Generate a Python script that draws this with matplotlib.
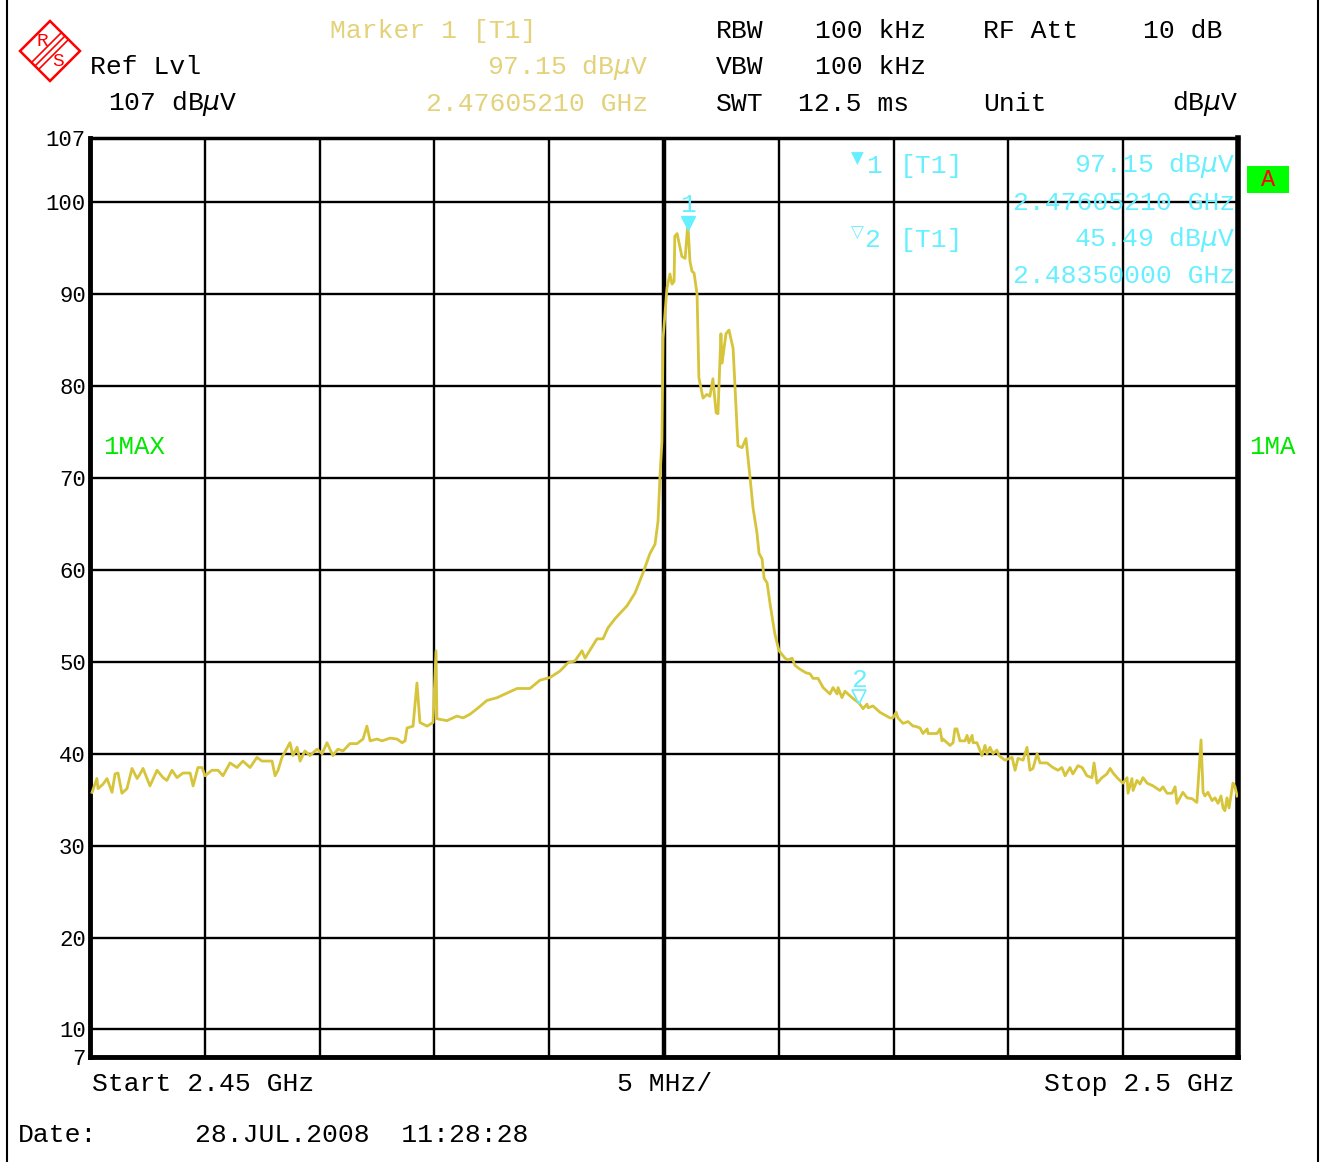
import numpy as np
import matplotlib
matplotlib.use("Agg")
import matplotlib.pyplot as plt
from matplotlib.lines import Line2D
from matplotlib.patches import Polygon, Rectangle
from matplotlib.transforms import ScaledTranslation

plt.rcParams['font.family'] = ['Liberation Mono', 'DejaVu Sans']
plt.rcParams['mathtext.fontset'] = 'dejavusans'

# sweep: start 2.45 GHz, stop 2.5 GHz, offsets in MHz from start
start_ghz = 2.45
stop_ghz = 2.50
offset_mhz = [
    0.09, 0.30, 0.35, 0.57, 0.74, 0.96, 1.09, 1.22, 1.39, 1.61, 1.83, 2.05, 2.18, 2.31, 2.61,
    2.92, 3.18, 3.35, 3.57, 3.79, 4.05, 4.36, 4.49, 4.70, 4.88, 5.01, 5.31, 5.58, 5.79, 6.10,
    6.40, 6.66, 6.97, 7.27, 7.49, 7.93, 8.06, 8.19, 8.36, 8.71, 8.84, 9.02, 9.15, 9.36, 9.58,
    9.89, 10.11, 10.32, 10.58, 10.80, 11.02, 11.32, 11.63, 11.89, 12.06, 12.20, 12.50, 12.72,
    13.07, 13.37, 13.59, 13.72, 13.81, 14.07, 14.24, 14.37, 14.68, 14.94, 15.07, 15.11, 15.55,
    15.98, 16.25, 16.55, 16.86, 17.29, 17.73, 18.16,
    18.60, 19.16, 19.60, 20.04, 20.47, 20.82, 21.12, 21.43, 21.56, 22.08, 22.34, 22.56, 22.87,
    23.39, 23.74, 24.09, 24.39, 24.61, 24.74, 24.83, 24.91,
    24.96, 25.13, 25.26, 25.35, 25.44, 25.47, 25.57, 25.78, 25.92, 26.02, 26.05, 26.13, 26.22,
    26.31, 26.44, 26.52, 26.70, 26.87, 27.00, 27.13, 27.27, 27.35, 27.48, 27.53, 27.70, 27.83,
    28.01, 28.22, 28.40, 28.57,
    28.75, 28.88, 29.05, 29.14, 29.27, 29.36, 29.49, 29.62, 29.83, 30.01, 30.27, 30.40, 30.58,
    30.71, 30.92, 31.19, 31.36, 31.49, 31.71, 31.93, 32.23, 32.36, 32.54, 32.58, 32.75, 32.88,
    33.19, 33.50, 33.67, 33.84, 33.89, 34.10, 34.41, 34.63, 34.84, 34.97, 35.11, 35.19, 35.41,
    35.63, 35.85, 35.93,
    36.15, 36.28, 36.46, 36.50, 36.89, 37.02, 37.11, 37.15, 37.46, 37.59, 37.67, 37.76, 37.89,
    38.11, 38.20, 38.28, 38.42, 38.46, 38.63, 38.85, 38.98, 39.07, 39.20, 39.33, 39.50, 39.59,
    39.85, 40.16, 40.29, 40.42, 40.64, 40.81, 40.94, 41.07, 41.25, 41.38, 41.68, 41.94, 42.16,
    42.33, 42.47, 42.68, 42.81, 43.03, 43.21, 43.42, 43.64, 43.73, 43.86, 44.08, 44.29, 44.43,
    44.56, 44.77, 44.99, 45.17, 45.21, 45.38, 45.43, 45.60, 45.73, 45.86, 46.04, 46.30, 46.60,
    46.73, 46.91, 47.13, 47.26, 47.34, 47.47, 47.60, 47.78, 48.00, 48.21, 48.39, 48.48, 48.56,
    48.69, 48.87, 49.00, 49.13, 49.26, 49.35, 49.43, 49.52, 49.61, 49.78, 49.87, 49.96,
]
level_dbuv = [
    35.8, 37.3, 36.2, 36.7, 37.3, 35.8, 37.8, 37.9, 35.7, 36.2, 38.4, 37.3, 37.8, 38.4, 36.5,
    38.2, 37.4, 37.1, 38.2, 37.4, 37.9, 37.9, 36.5, 38.5, 38.5, 37.6, 38.2, 38.2, 37.6, 39.0,
    38.5, 39.2, 38.5, 39.6, 39.2, 39.2, 37.6, 38.2, 39.6, 41.2, 39.8, 40.7, 39.2, 40.3, 39.8,
    40.5, 40.0, 41.2, 39.8, 40.5, 40.3, 41.1, 41.1, 41.6, 43.0, 41.4, 41.6, 41.4,
    41.7, 41.6, 41.2, 41.4, 42.8, 43.0, 47.7, 43.4, 43.0, 43.4, 51.2, 43.8, 43.6,
    44.1, 43.9, 44.3, 44.9, 45.8, 46.1, 46.6,
    47.1, 47.1, 48.0, 48.3, 49.0, 49.9, 50.1, 51.2, 50.4, 52.5, 52.5, 53.7, 54.7,
    56.1, 57.5, 59.7, 61.8, 62.8, 65.3, 70.4, 74.0,
    85.2, 90.7, 92.2, 91.1, 91.4, 96.3, 96.6, 94.1, 93.9, 97.1, 97.15, 93.6, 92.5,
    92.3, 90.0, 80.9, 78.7, 79.1, 78.9, 80.8, 77.1, 77.0, 85.7, 82.5, 85.7, 86.1,
    84.1, 73.5, 73.3, 74.3,
    70.0, 66.7, 64.0, 61.8, 61.2, 59.1, 58.6, 56.3, 53.0, 51.2, 50.4, 50.2, 50.4,
    49.6, 49.2, 48.8, 48.7, 48.2, 48.2, 47.2, 46.5, 47.2, 46.5, 47.2, 46.1, 46.8,
    46.1, 45.49, 44.9, 45.4, 45.0, 45.2, 44.5, 44.2, 43.9, 43.9, 44.5, 43.9, 43.3,
    43.5, 43.0, 43.0,
    42.8, 42.2, 42.7, 42.2, 42.2, 42.7, 41.4, 41.6, 40.9, 41.2, 42.7, 42.7, 41.4,
    41.4, 42.0, 41.2, 42.0, 41.2, 41.2, 39.8, 40.9, 40.0, 40.7, 40.0, 40.4, 39.8,
    39.3, 39.6, 38.2, 39.5, 39.3, 40.7, 38.2, 38.4, 40.0, 39.0, 39.0, 38.5, 38.2,
    38.5, 37.6, 38.5, 37.8, 38.7, 38.5, 37.6, 37.4, 39.0, 36.8, 37.4, 37.8, 38.4,
    37.9, 37.3, 36.8, 37.4, 35.7, 37.3, 36.0, 37.1, 36.7, 37.4, 36.8, 36.5, 36.0,
    36.4, 35.7, 35.7, 36.4, 34.6, 35.2, 35.8, 35.2, 35.1, 34.7, 41.5, 35.8, 35.4,
    35.8, 34.9, 35.2, 34.6, 35.4, 34.1, 33.8, 35.2, 34.1, 36.8, 36.4, 35.4,
]

# markers [T1]
marker_freq_ghz = [2.47605210, 2.48350000]
marker_level = [97.15, 45.49]

y_ticks = [7, 10, 20, 30, 40, 50, 60, 70, 80, 90, 100, 107]

trace_color = '#d6c43a'
hdr_yellow = '#e3d27a'
cyan = '#66f0ff'
green = '#00e800'
fs = 19

W, H = 1320, 1162


def px(x, y):
    return x / W, 1 - y / H


fig = plt.figure(figsize=(13.2, 11.62), dpi=100)
ax = fig.add_axes([90 / W, 1 - 1057 / H, (1238 - 90) / W, (1057 - 138) / H])

freq = start_ghz + np.array(offset_mhz) / 1000.0
ax.plot(freq, level_dbuv, color=trace_color, lw=2.0, zorder=3)

ax.set_xlim(start_ghz, stop_ghz)
ax.set_ylim(7, 107)
ax.set_xticks(np.linspace(start_ghz, stop_ghz, 11))
ax.set_xticklabels([])
ax.set_yticks(y_ticks)
ax.set_yticklabels([str(t) for t in y_ticks], fontsize=16)
ax.tick_params(length=0, pad=3)
ax.grid(True, color='black', lw=1.7)
ax.axvline((start_ghz + stop_ghz) / 2, color='black', lw=3.2, zorder=2)
for s in ax.spines.values():
    s.set_color('black')
ax.spines['left'].set_linewidth(3.5)
ax.spines['bottom'].set_linewidth(3.5)
ax.spines['right'].set_linewidth(4)
ax.spines['top'].set_linewidth(2.5)

# marker symbols on trace
up = ScaledTranslation(0, 6 / 100, fig.dpi_scale_trans)
ax.plot(marker_freq_ghz[0], marker_level[0], marker='v', ms=10, color=cyan,
        mec=cyan, transform=ax.transData + up, zorder=4)
ax.plot(marker_freq_ghz[1], marker_level[1], marker='v', ms=10, mfc='none',
        mec=cyan, mew=1.2, transform=ax.transData + up, zorder=4)
for i, (mf, ml) in enumerate(zip(marker_freq_ghz, marker_level)):
    ax.annotate(str(i + 1), (mf, ml), xytext=(0, 17), textcoords='offset points',
                ha='center', va='center', color=cyan, fontsize=fs)

# marker table inside plot
fig.text(*px(857, 159), '\u25BC', color=cyan, fontsize=12, ha='center', va='center',
         family='DejaVu Sans')
fig.text(*px(866, 166), '1', color=cyan, fontsize=fs, va='center')
fig.text(*px(857, 233), '\u25BD', color=cyan, fontsize=12, ha='center', va='center',
         family='DejaVu Sans')
fig.text(*px(864, 240), '2', color=cyan, fontsize=fs, va='center')
fig.text(*px(900, 166), '[T1]', color=cyan, fontsize=fs, va='center')
fig.text(*px(900, 240), '[T1]', color=cyan, fontsize=fs, va='center')
fig.text(*px(1235, 166), '%.2f dB$\\mu$V' % marker_level[0], color=cyan, fontsize=fs,
         ha='right', va='center')
fig.text(*px(1235, 203), '%.8f GHz' % marker_freq_ghz[0], color=cyan, fontsize=fs,
         ha='right', va='center')
fig.text(*px(1235, 240), '%.2f dB$\\mu$V' % marker_level[1], color=cyan, fontsize=fs,
         ha='right', va='center')
fig.text(*px(1235, 276), '%.8f GHz' % marker_freq_ghz[1], color=cyan, fontsize=fs,
         ha='right', va='center')

fig.text(*px(103, 447), '1MAX', color=green, fontsize=18.5, va='center')
fig.text(*px(1249, 447), '1MA', color=green, fontsize=18.5, va='center')

# "A" flag
fig.add_artist(Rectangle(px(1247, 193), 42 / W, 27 / H, transform=fig.transFigure,
                         facecolor='#00ff00', edgecolor='none'))
fig.text(*px(1268, 179), 'A', color='red', fontsize=17, ha='center', va='center')

# header
fig.text(*px(90, 67), 'Ref Lvl', color='black', fontsize=fs, va='center')
fig.text(*px(108, 104), '107 dB$\\mu$V', color='black', fontsize=fs, va='center')
fig.text(*px(330, 31), 'Marker 1 [T1]', color=hdr_yellow, fontsize=fs, va='center')
fig.text(*px(648, 67), '%.2f dB$\\mu$V' % marker_level[0], color=hdr_yellow, fontsize=fs,
         ha='right', va='center')
fig.text(*px(648, 104), '%.8f GHz' % marker_freq_ghz[0], color=hdr_yellow, fontsize=fs,
         ha='right', va='center')
fig.text(*px(716, 31), 'RBW', fontsize=fs, va='center')
fig.text(*px(815, 31), '100 kHz', fontsize=fs, va='center')
fig.text(*px(716, 67), 'VBW', fontsize=fs, va='center')
fig.text(*px(815, 67), '100 kHz', fontsize=fs, va='center')
fig.text(*px(716, 104), 'SWT', fontsize=fs, va='center')
fig.text(*px(798, 104), '12.5 ms', fontsize=fs, va='center')
fig.text(*px(983, 31), 'RF Att', fontsize=fs, va='center')
fig.text(*px(1222, 31), '10 dB', fontsize=fs, ha='right', va='center')
fig.text(*px(983, 104), 'Unit', fontsize=fs, va='center')
fig.text(*px(1238, 104), 'dB$\\mu$V', fontsize=fs, ha='right', va='center')

# footer
fig.text(*px(92, 1084), 'Start 2.45 GHz', fontsize=fs, va='center')
fig.text(*px(617, 1084), '5 MHz/', fontsize=fs, va='center')
fig.text(*px(1234, 1084), 'Stop 2.5 GHz', fontsize=fs, ha='right', va='center')
fig.text(*px(18, 1135), 'Date:', fontsize=fs, va='center')
fig.text(*px(195, 1135), '28.JUL.2008  11:28:28', fontsize=fs, va='center')

# outer frame
fig.add_artist(Line2D([7 / W, 7 / W], [0, 1], color='black', lw=1.5,
                      transform=fig.transFigure))
fig.add_artist(Line2D([1318 / W, 1318 / W], [0, 1], color='black', lw=1.5,
                      transform=fig.transFigure))

# R&S logo
diamond = [px(50, 21), px(80, 51), px(50, 81), px(20, 51)]
fig.add_artist(Polygon(diamond, closed=True, fill=False, edgecolor='red', lw=1.8,
                       transform=fig.transFigure))
for d in (-3.5, 0, 3.5):
    fig.add_artist(Line2D([(35 + d) / W, (65 + d) / W], [1 - (66 + d) / H, 1 - (36 + d) / H],
                          color='red', lw=1.2, transform=fig.transFigure))
fig.text(*px(42, 41), 'R', color='red', fontsize=14, ha='center', va='center')
fig.text(*px(58, 62), 'S', color='red', fontsize=14, ha='center', va='center')

fig.savefig('out.png', dpi=100, facecolor='white')
